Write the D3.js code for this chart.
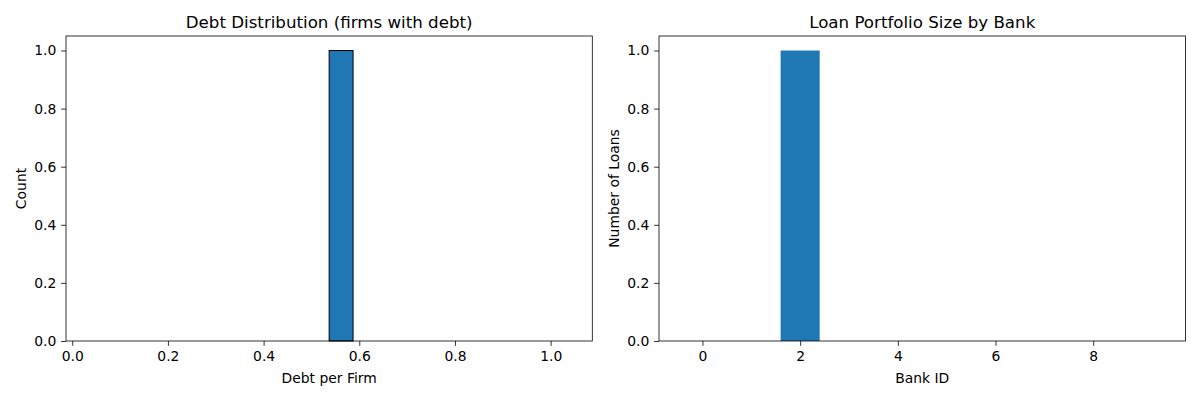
<!DOCTYPE html>
<html>
<head>
<meta charset="utf-8">
<script src="https://cdn.jsdelivr.net/npm/d3@7"></script>
<style>
  html, body { margin: 0; padding: 0; background: #fff; }
  svg text { font-family: "DejaVu Sans", sans-serif; fill: #000; }
</style>
</head>
<body>
<svg id="chart" width="1200" height="400"></svg>
<script>
// ---- Data ----
const histBinEdges = [0.037, 0.087, 0.137, 0.187, 0.237, 0.287, 0.337, 0.387, 0.437, 0.487,
                      0.537, 0.587, 0.637, 0.687, 0.737, 0.787, 0.837, 0.887, 0.937, 0.987, 1.037];
const histCounts = [0, 0, 0, 0, 0, 0, 0, 0, 0, 0, 1, 0, 0, 0, 0, 0, 0, 0, 0, 0];
const bankIds = [0, 1, 2, 3, 4, 5, 6, 7, 8, 9];
const loanCounts = [0, 0, 1, 0, 0, 0, 0, 0, 0, 0];
const histXTicks = [0.0, 0.2, 0.4, 0.6, 0.8, 1.0];
const bankXTicks = [0, 2, 4, 6, 8];
const yTicks = [0.0, 0.2, 0.4, 0.6, 0.8, 1.0];
const titles = ["Debt Distribution (firms with debt)", "Loan Portfolio Size by Bank"];
const xLabels = ["Debt per Firm", "Bank ID"];
const yLabels = ["Count", "Number of Loans"];

// ---- Layout ----
const svg = d3.select("#chart");
const plotTop = 36, plotBottom = 341;
const panels = [{ left: 66, right: 592.3 }, { left: 659, right: 1185.5 }];
const blue = "#1f77b4";
const tickLen = 4.86, tickPad = 4.86;
const fontTick = 13.9, fontTitle = 16.67;

function drawAxes(g, p, x, y, xTicks, xFmt, idx) {
  const yAxis = d3.axisLeft(y).tickValues(yTicks).tickFormat(d3.format(".1f"))
    .tickSizeInner(tickLen).tickSizeOuter(0).tickPadding(tickPad);
  const ya = g.append("g").attr("transform", `translate(${p.left},0)`).call(yAxis);
  const xAxis = d3.axisBottom(x).tickValues(xTicks).tickFormat(xFmt)
    .tickSizeInner(tickLen).tickSizeOuter(0).tickPadding(tickPad);
  const xa = g.append("g").attr("transform", `translate(0,${plotBottom})`).call(xAxis);
  [ya, xa].forEach(a => {
    a.select(".domain").remove();
    a.selectAll(".tick line").attr("stroke", "#000").attr("stroke-width", 0.8);
    a.selectAll(".tick text").style("font-size", fontTick + "px").attr("fill", "#000")
      .style("font-family", "DejaVu Sans, sans-serif");
  });
  ya.selectAll(".tick text").attr("dy", "0.32em");
  xa.selectAll(".tick text").attr("dy", "0.76em");
  g.append("rect").attr("x", p.left).attr("y", plotTop)
    .attr("width", p.right - p.left).attr("height", plotBottom - plotTop)
    .attr("fill", "none").attr("stroke", "#000").attr("stroke-width", 0.8);
  g.append("text").attr("x", (p.left + p.right) / 2).attr("y", plotTop - 8.3)
    .attr("text-anchor", "middle").style("font-size", fontTitle + "px").text(titles[idx]);
  g.append("text").attr("x", (p.left + p.right) / 2).attr("y", 382.5)
    .attr("text-anchor", "middle").style("font-size", fontTick + "px").text(xLabels[idx]);
  const yl = idx === 0 ? 26 : 619;
  g.append("text").attr("transform", `translate(${yl},${(plotTop + plotBottom) / 2}) rotate(-90)`)
    .attr("text-anchor", "middle").style("font-size", fontTick + "px").text(yLabels[idx]);
}

// ---- Left panel: histogram ----
{
  const p = panels[0];
  const lo = histBinEdges[0], hi = histBinEdges[histBinEdges.length - 1];
  const m = (hi - lo) * 0.05;
  const x = d3.scaleLinear().domain([lo - m, hi + m]).range([p.left, p.right]);
  const y = d3.scaleLinear().domain([0, 1.05]).range([plotBottom, plotTop]);
  const g = svg.append("g");
  const bins = histCounts.map((c, i) => ({ x0: histBinEdges[i], x1: histBinEdges[i + 1], c }));
  g.selectAll("rect.bar").data(bins).enter().append("rect").attr("class", "bar")
    .attr("x", d => x(d.x0)).attr("width", d => x(d.x1) - x(d.x0))
    .attr("y", d => y(d.c)).attr("height", d => y(0) - y(d.c))
    .attr("fill", blue).attr("stroke", "#000").attr("stroke-width", 1);
  drawAxes(g, p, x, y, histXTicks, d3.format(".1f"), 0);
}

// ---- Right panel: bar chart ----
{
  const p = panels[1];
  const w = 0.8;
  const lo = d3.min(bankIds) - w / 2, hi = d3.max(bankIds) + w / 2;
  const m = (hi - lo) * 0.05;
  const x = d3.scaleLinear().domain([lo - m, hi + m]).range([p.left, p.right]);
  const y = d3.scaleLinear().domain([0, 1.05]).range([plotBottom, plotTop]);
  const g = svg.append("g");
  g.selectAll("rect.bar").data(bankIds.map((b, i) => ({ b, v: loanCounts[i] })))
    .enter().append("rect").attr("class", "bar")
    .attr("x", d => x(d.b - w / 2)).attr("width", d => x(d.b + w / 2) - x(d.b - w / 2))
    .attr("y", d => y(d.v)).attr("height", d => y(0) - y(d.v))
    .attr("fill", blue);
  drawAxes(g, p, x, y, bankXTicks, d3.format("d"), 1);
}
</script>
</body>
</html>
